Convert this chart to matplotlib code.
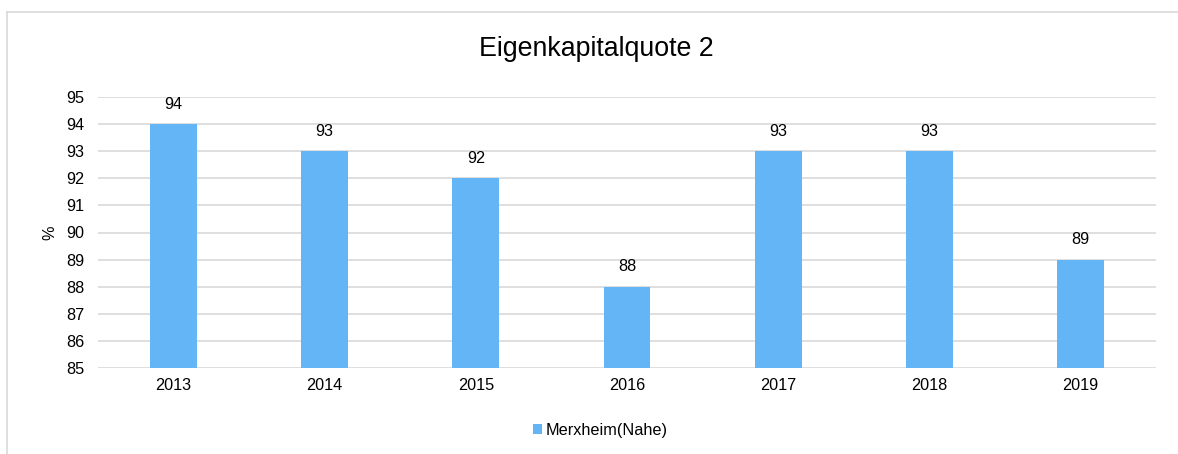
import matplotlib
matplotlib.use("Agg")
import matplotlib.pyplot as plt
from matplotlib.lines import Line2D
from matplotlib.patches import Patch

plt.rcParams['font.family'] = ['Liberation Sans', 'DejaVu Sans']

years = ["2013", "2014", "2015", "2016", "2017", "2018", "2019"]
values = [94, 93, 92, 88, 93, 93, 89]
series_name = "Merxheim(Nahe)"
title = "Eigenkapitalquote 2"
ylabel = "%"
yticks = list(range(85, 96))

W, H = 1178, 454
fs = 11.7
fig = plt.figure(figsize=(W / 100, H / 100), dpi=100)
ax = fig.add_axes([98 / W, 1 - 368 / H, (1156 - 98) / W, (368 - 97) / H])

color = "#63B5F6"
x = list(range(len(years)))
bars = ax.bar(x, [v - 85 for v in values], bottom=85, width=0.31, color=color, zorder=3)
ax.set_xlim(-0.5, len(years) - 0.5)
ax.set_ylim(85, 95)
ax.set_yticks(yticks)
ax.set_xticks(x)
ax.set_xticklabels(years)
ax.tick_params(axis='both', length=0, labelsize=fs, colors='#000000')
ax.tick_params(axis='x', pad=7)
ax.tick_params(axis='y', pad=10)
ax.grid(axis='y', color='#d9d9d9', linewidth=1.2, zorder=0)
for s in ax.spines.values():
    s.set_visible(False)

for xi, v in zip(x, values):
    ax.annotate(str(v), (xi, v), xytext=(0, 9), textcoords='offset points',
                ha='center', va='bottom', fontsize=fs)

ax.set_ylabel(ylabel, fontsize=fs, labelpad=6)

fig.text(596 / W, 1 - 49 / H, title, ha='center', va='center', fontsize=19.3)

handles = [Patch(facecolor=color, label=series_name)]
fig.legend(handles=handles, loc='center', bbox_to_anchor=(600 / W, 1 - 430 / H),
           frameon=False, fontsize=fs, handlelength=0.6, handleheight=0.6,
           handletextpad=0.2)

# outer frame (partially cut in reference)
fig.add_artist(Line2D([7 / W, 1.0], [1 - 12 / H, 1 - 12 / H], color='#d9d9d9', linewidth=1.2,
                      transform=fig.transFigure))
fig.add_artist(Line2D([7 / W, 7 / W], [0, 1 - 12 / H], color='#d9d9d9', linewidth=1.2,
                      transform=fig.transFigure))

fig.savefig("out.png", dpi=100)
